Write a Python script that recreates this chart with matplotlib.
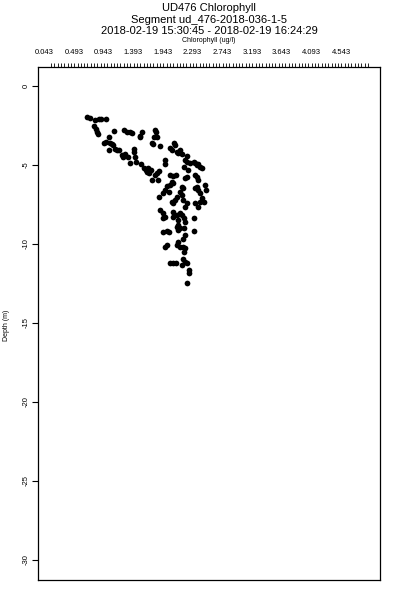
import numpy as np
import matplotlib
matplotlib.use('Agg')
import matplotlib.pyplot as plt

plt.rcParams['font.family'] = ['Liberation Sans', 'DejaVu Sans']

# Datos (clorofila en ug/l, profundidad en m)
chlor = [0.70, 0.74, 0.82, 0.87, 0.90, 0.98, 0.80, 0.83, 0.84, 0.86,
         1.03, 1.10, 0.95, 0.98, 1.25, 1.30, 1.34, 1.37, 1.52, 1.50,
         1.49, 1.73, 1.74, 1.71, 1.75, 1.68, 1.69, 1.80, 1.04, 1.07,
         1.09, 1.02, 1.12, 1.15, 1.18, 1.22, 1.24, 1.27, 1.31, 1.35,
         1.40, 1.41, 1.42, 1.44, 1.51, 1.56, 1.59, 1.62, 1.61, 1.64,
         1.66, 1.68, 1.77, 1.73, 1.75, 1.79, 1.87, 1.88, 1.95, 1.98,
         2.01, 2.03, 2.05, 2.08, 2.10, 2.13, 2.21, 2.18, 2.21, 2.26,
         2.31, 2.33, 2.36, 2.38, 2.41, 2.43, 2.16, 2.23, 2.21, 2.18,
         2.33, 2.36, 2.38, 1.95, 2.00, 2.04, 1.98, 2.00, 1.95, 1.90,
         1.88, 1.93, 1.85, 1.78, 2.13, 2.15, 2.10, 2.13, 2.36, 2.38,
         2.33, 2.48, 2.50, 2.05, 2.03, 1.98, 2.00, 2.15, 2.21, 2.18,
         2.41, 2.43, 2.46, 2.41, 2.33, 2.38, 1.80, 1.84, 1.88, 1.85,
         2.00, 1.99, 2.05, 2.10, 2.14, 2.16, 2.18, 2.08, 2.08, 2.31,
         1.85, 1.90, 1.93, 2.05, 2.08, 2.10, 2.16, 2.18, 2.15, 2.31,
         1.90, 1.88, 2.08, 2.05, 2.10, 2.15, 2.18, 2.16, 1.95, 2.00,
         2.04, 2.15, 2.18, 2.21, 2.13, 2.24, 2.24, 2.21]
depth = [-1.94, -2.04, -2.15, -2.09, -2.09, -2.09, -2.53, -2.74, -2.89, -3.06,
         -3.21, -2.85, -3.59, -3.53, -2.78, -2.89, -2.93, -2.99, -2.89, -3.16,
         -3.25, -2.78, -2.93, -3.21, -3.25, -3.59, -3.69, -3.78, -3.63, -3.69,
         -3.73, -4.05, -4.01, -4.05, -4.05, -4.37, -4.47, -4.30, -4.47, -4.89,
         -4.01, -4.16, -4.47, -4.79, -4.96, -5.21, -5.32, -5.21, -5.42, -5.53,
         -5.32, -5.95, -5.95, -5.63, -5.49, -5.36, -4.94, -4.68, -3.94, -4.05,
         -3.63, -3.73, -4.16, -4.26, -4.05, -4.30, -4.43, -4.68, -4.79, -4.89,
         -4.79, -4.89, -5.00, -4.94, -5.11, -5.21, -5.11, -5.32, -5.74, -5.84,
         -5.63, -5.74, -5.95, -5.63, -5.70, -5.63, -6.06, -6.16, -6.27, -6.33,
         -6.58, -6.69, -6.79, -7.01, -6.37, -6.47, -6.69, -6.90, -6.37, -6.58,
         -6.47, -6.27, -6.58, -7.01, -7.22, -7.32, -7.42, -7.22, -7.42, -7.64,
         -6.79, -7.11, -7.32, -7.32, -7.42, -7.64, -7.85, -8.06, -8.27, -8.37,
         -7.96, -8.27, -8.16, -8.06, -8.16, -8.37, -8.59, -8.48, -8.80, -8.37,
         -9.22, -9.16, -9.22, -8.91, -9.11, -9.01, -9.01, -9.43, -9.70, -9.18,
         -10.06, -10.17, -9.85, -10.06, -10.17, -10.17, -10.27, -10.49, -11.22, -11.22,
         -11.18, -10.97, -11.12, -11.22, -11.33, -11.65, -11.82, -12.45]

xtick_vals = [0.043, 0.493, 0.943, 1.393, 1.843, 2.293, 2.743, 3.193, 3.643, 4.093, 4.543]
xtick_labels = ['0.043', '0.493', '0.943', '1.393', '1.943', '2.293', '2.743',
                '3.193', '3.643', '4.093', '4.543']
ytick_vals = [0, -5, -10, -15, -20, -25, -30]

fig = plt.figure(figsize=(4, 6), dpi=100)
ax = fig.add_axes([0.096, 0.0333, 0.854, 0.855])

ax.scatter(chlor, depth, s=17, c='black', marker='o', linewidths=0)

ax.set_xlim(-0.043, 5.134)
ax.set_ylim(-31.27, 1.2)

# eje x arriba, etiquetas sin marca y marcas menores cada 0.05
ax.xaxis.tick_top()
ax.set_xticks(xtick_vals)
ax.set_xticklabels(xtick_labels, fontsize=5.5)
ax.set_xticks(np.arange(0.15, 4.96, 0.05), minor=True)
ax.tick_params(axis='x', which='major', length=0, pad=8)
ax.tick_params(axis='x', which='minor', length=3, width=0.6, direction='out')

ax.set_yticks(ytick_vals)
ax.set_yticklabels([str(v) for v in ytick_vals], fontsize=5.5, rotation=90, va='center')
ax.tick_params(axis='y', length=4, width=0.8, pad=2)

for s in ax.spines.values():
    s.set_linewidth(0.9)

fig.text(0.5225, 1 - 8 / 600, 'UD476 Chlorophyll', ha='center', va='center', fontsize=8)
fig.text(0.5225, 1 - 20 / 600, 'Segment ud_476-2018-036-1-5', ha='center', va='center', fontsize=8)
fig.text(0.5225, 1 - 31 / 600, '2018-02-19 15:30:45 - 2018-02-19 16:24:29',
         ha='center', va='center', fontsize=8)
fig.text(0.5225, 1 - 40 / 600, 'Chlorophyll (ug/l)', ha='center', va='center', fontsize=5)
fig.text(7 / 400, 1 - 325 / 600, 'Depth (m)', ha='center', va='center', rotation=90, fontsize=5)

plt.savefig('out.png', dpi=100)
